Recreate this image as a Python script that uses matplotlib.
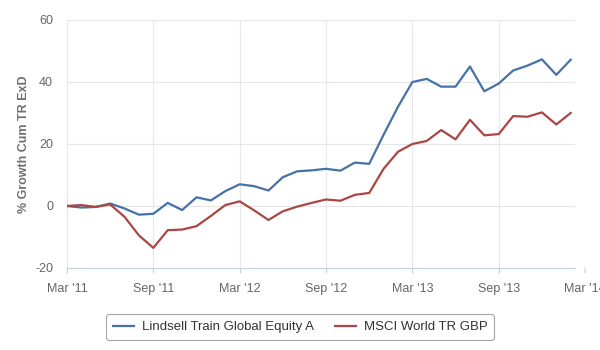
import matplotlib
matplotlib.use("Agg")
import matplotlib.pyplot as plt
from matplotlib.transforms import offset_copy

plt.rcParams['font.family'] = ['Liberation Sans', 'DejaVu Sans']
plt.rcParams['axes.unicode_minus'] = False

months = ["Mar '11", "Apr '11", "May '11", "Jun '11", "Jul '11", "Aug '11",
          "Sep '11", "Oct '11", "Nov '11", "Dec '11", "Jan '12", "Feb '12",
          "Mar '12", "Apr '12", "May '12", "Jun '12", "Jul '12", "Aug '12",
          "Sep '12", "Oct '12", "Nov '12", "Dec '12", "Jan '13", "Feb '13",
          "Mar '13", "Apr '13", "May '13", "Jun '13", "Jul '13", "Aug '13",
          "Sep '13", "Oct '13", "Nov '13", "Dec '13", "Jan '14", "Feb '14"]

fund = [0, -0.5, -0.3, 0.8, -0.8, -2.8, -2.5, 1.0, -1.3, 2.8, 1.8, 4.8,
        7.0, 6.4, 5.0, 9.3, 11.2, 11.5, 12.0, 11.4, 14.0, 13.6, 23.0, 32.0,
        40.0, 41.0, 38.5, 38.5, 45.0, 37.0, 39.5, 43.7, 45.3, 47.3, 42.3, 47.2]

index = [0, 0.3, -0.3, 0.5, -3.5, -9.5, -13.5, -7.8, -7.6, -6.5, -3.2, 0.3,
         1.5, -1.4, -4.5, -1.7, -0.2, 1.0, 2.1, 1.7, 3.6, 4.2, 12.0, 17.5,
         20.0, 21.0, 24.5, 21.5, 27.8, 22.8, 23.2, 29.0, 28.8, 30.2, 26.3, 30.0]

series_names = ["Lindsell Train Global Equity A", "MSCI World TR GBP"]
tick_labels = ["Mar '11", "Sep '11", "Mar '12", "Sep '12", "Mar '13", "Sep '13", "Mar '14"]
y_ticks = [-20, 0, 20, 40, 60]

fig = plt.figure(figsize=(6, 3.5), dpi=100)
ax = fig.add_axes([67/600, 1-268/350, 508/600, 248/350])

x = list(range(len(months)))
l1, = ax.plot(x, fund, color='#4572A7', lw=1.6, label=series_names[0], solid_joinstyle='round')
l2, = ax.plot(x, index, color='#AA4643', lw=1.6, label=series_names[1], solid_joinstyle='round')

tick_pos = [6 * i for i in range(len(tick_labels))]
ax.set_xlim(0, 35.3)
ax.set_ylim(-20, 60)
ax.set_yticks(y_ticks)
ax.set_xticks(tick_pos[:-1])
ax.set_xticklabels(tick_labels[:-1])
for xv in tick_pos[:-1]:
    ax.axvline(xv, color='#e4e8ee', lw=0.8, zorder=0)
for yv in y_ticks[1:]:
    ax.axhline(yv, color='#e6e6e6', lw=0.8, zorder=0)

tick_len = 3.6
tick_pad = 7
# last tick lies outside the plot area
tr = offset_copy(ax.transData, fig=fig, x=0, y=-(tick_len + tick_pad), units='points')
ax.text(tick_pos[-1], y_ticks[0], tick_labels[-1], transform=tr, clip_on=False,
        ha='center', va='top', fontsize=9, color='#666666')
ax.annotate('', xy=(tick_pos[-1], y_ticks[0]), xytext=(0, -tick_len), textcoords='offset points',
            xycoords='data', annotation_clip=False,
            arrowprops=dict(arrowstyle='-', color='#C0D0E0', lw=0.8, shrinkA=0, shrinkB=0))

for s in ['top', 'right', 'left']:
    ax.spines[s].set_visible(False)
ax.spines['bottom'].set_color('#C0D0E0')
ax.tick_params(axis='x', colors='#C0D0E0', length=tick_len, width=0.8, labelcolor='#666666',
               labelsize=9, pad=tick_pad)
ax.tick_params(axis='y', length=0, labelcolor='#666666', labelsize=9, pad=10)
ax.set_ylabel('% Growth Cum TR ExD', fontsize=9, fontweight='bold', color='#707070', labelpad=4)

leg = fig.legend(handles=[l1, l2], loc='center', bbox_to_anchor=(300/600, 1-327/350),
                 ncol=2, frameon=True, fancybox=True, fontsize=9.5, handlelength=1.6,
                 columnspacing=1.6, handletextpad=0.6, borderpad=0.5)
leg.get_frame().set_edgecolor('#909090')
leg.get_frame().set_linewidth(0.8)
for t in leg.get_texts():
    t.set_color('#333333')

fig.savefig('out.png', dpi=100)
